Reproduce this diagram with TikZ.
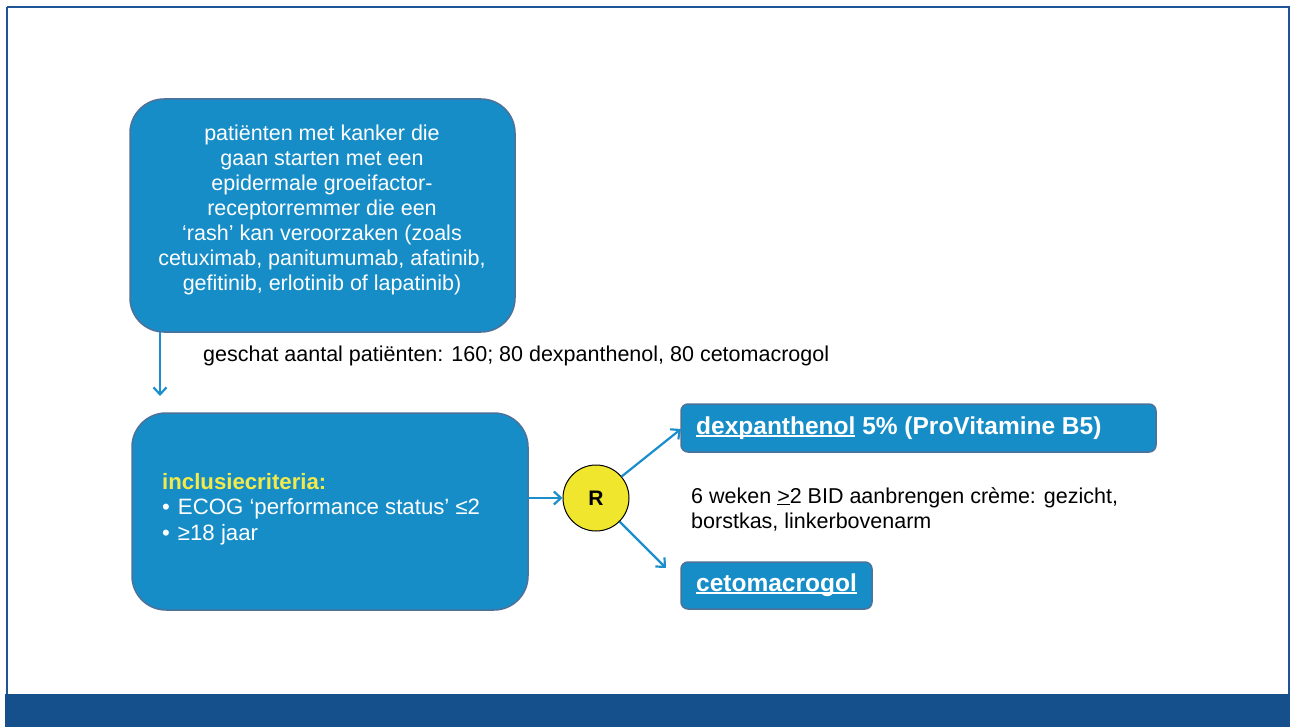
\documentclass[tikz,border=0pt]{standalone}
\usepackage{fontspec}
\setmainfont{Liberation Sans}
\usetikzlibrary{arrows.meta}
\definecolor{boxblue}{HTML}{178DC8}
\definecolor{boxedge}{HTML}{4E7199}
\definecolor{arrblue}{HTML}{1B8FCC}
\definecolor{band}{HTML}{154F8C}
\definecolor{frameblue}{HTML}{1F5596}
\definecolor{ryellow}{HTML}{F0E62E}
\definecolor{crityellow}{HTML}{F2EA4A}
\newlength\myulw
\newcommand\myul[2][2.6pt]{\settowidth{\myulw}{#2}\rlap{\rule[-#1]{\myulw}{1.7pt}}#2}
\tikzset{
  bigbox/.style={draw=boxedge, line width=1.5pt, fill=boxblue, rounded corners=34pt, inner sep=0pt},
  armbox/.style={draw=boxedge, line width=1.5pt, fill=boxblue, rounded corners=7pt, inner sep=0pt},
  conn/.style={draw=arrblue, line width=2.2pt, -{Straight Barb[length=7pt,width=13pt,line width=2.2pt]}},
  plaintext/.style={text=black, font=\fontsize{21.5}{25}\selectfont, align=left, inner sep=0pt, anchor=west},
}
\begin{document}
\begin{tikzpicture}[x=1pt,y=-1pt]
\useasboundingbox (0,0) rectangle (1290,727);
\fill[white] (0,0) rectangle (1290,727);
% frame and band
\draw[frameblue, line width=2pt] (7,7) -- (1289,7) -- (1289,694);
\draw[frameblue, line width=2pt] (7,7) -- (7,694);
\fill[band] (5,694) rectangle (1290,727);
% boxes
\path[bigbox] (130,99) rectangle (515,332);
\coordinate (topS) at (160,332);
\node[text=white, align=center, font=\fontsize{21.5}{25}\selectfont, inner sep=0pt] (toptext) at (322,210)
 {patiënten met kanker die\\gaan starten met een\\epidermale groeifactor-\\receptorremmer die een\\‘rash’ kan veroorzaken (zoals\\cetuximab, panitumumab, afatinib,\\gefitinib, erlotinib of lapatinib)};
\path[bigbox] (132,413) rectangle (528,610);
\coordinate (incE) at (528,498);
\coordinate (incN) at (160,396);
\node[text=white, align=left, anchor=west, font=\fontsize{22.2}{25.5}\selectfont, inner sep=0pt] (inctext) at (162,509)
 {\textcolor{crityellow}{\textbf{inclusiecriteria:}}\\•\hspace{8pt}ECOG ‘performance status’ ≤2\\•\hspace{8pt}≥18 jaar};
% R circle
\node[circle, draw=black, line width=1pt, fill=ryellow, minimum size=66pt, inner sep=0pt, font=\bfseries\fontsize{21}{24}\selectfont] (R) at (596,498) {R};
% arm boxes
\node[armbox, minimum width=475pt, minimum height=48pt] (dex) at (918.5,428) {};
\node[text=white, anchor=west, inner sep=0pt, font=\bfseries\fontsize{24.5}{28}\selectfont] (dext) at (696,428) {\myul{dexpanthenol} 5\% (ProVitamine B5)};
\node[armbox, minimum width=191pt, minimum height=47pt] (ceto) at (776.5,585.5) {};
\node[text=white, anchor=west, inner sep=0pt, font=\bfseries\fontsize{24.5}{28}\selectfont] (cetot) at (696,585) {\myul{cetomacrogol}};
% texts
\node[plaintext] (est) at (203,356) {geschat aantal patiënten: 160; 80 dexpanthenol, 80 cetomacrogol};
\node[plaintext] (sched) at (691,509) {6 weken \myul[2.2pt]{>}2 BID aanbrengen crème: gezicht,\\borstkas, linkerbovenarm};
% connectors
\coordinate (dexW) at (681,429);
\coordinate (cetoW) at (666,568);
\draw[conn] (topS) -- (incN);
\draw[conn] (incE) -- (R.west);
\draw[conn] (R.40) -- (dexW);
\draw[conn] (R.-45) -- (cetoW);
\end{tikzpicture}
\end{document}
